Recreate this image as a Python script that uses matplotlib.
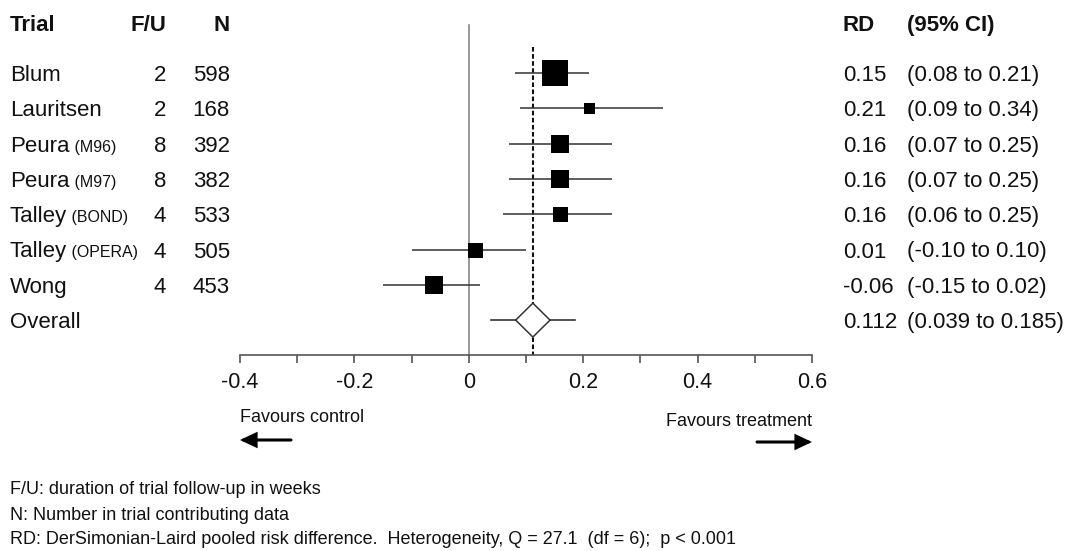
import matplotlib
matplotlib.use("Agg")
import matplotlib.pyplot as plt
from matplotlib.transforms import blended_transform_factory
from matplotlib.patches import Polygon, FancyArrowPatch

# ---------------- data ----------------
trials = ["Blum", "Lauritsen", "Peura", "Peura", "Talley", "Talley", "Wong"]
subtitles = ["", "", "(M96)", "(M97)", "(BOND)", "(OPERA)", ""]
fu = [2, 2, 8, 8, 4, 4, 4]
n_trial = [598, 168, 392, 382, 533, 505, 453]
rd = [0.15, 0.21, 0.16, 0.16, 0.16, 0.01, -0.06]
ci_lo = [0.08, 0.09, 0.07, 0.07, 0.06, -0.10, -0.15]
ci_hi = [0.21, 0.34, 0.25, 0.25, 0.25, 0.10, 0.02]
overall_rd = 0.112
overall_lo = 0.039
overall_hi = 0.185
x_ticks = [-0.4, -0.2, 0, 0.2, 0.4, 0.6]
x_tick_labels = ["-0.4", "-0.2", "0", "0.2", "0.4", "0.6"]
footnotes = [
    "F/U: duration of trial follow-up in weeks",
    "N: Number in trial contributing data",
    "RD: DerSimonian-Laird pooled risk difference.  Heterogeneity, Q = 27.1  (df = 6);  p < 0.001",
]

# ---------------- style ----------------
box_sizes_px = [27, 11, 18, 18, 15, 15, 18]
diamond_halfwidth = 0.03
W, H = 1070, 551
FONT = "Liberation Sans"
plt.rcParams["font.family"] = [FONT, "DejaVu Sans"]
TXT = "#111111"

fig = plt.figure(figsize=(W / 100, H / 100), dpi=100)

# axes: x from px 240 to 812, bottom at px 355, top at px 0
ax_left, ax_right, ax_bottom = 240, 812, 355
ax = fig.add_axes([ax_left / W, 1 - ax_bottom / H, (ax_right - ax_left) / W, ax_bottom / H])
ax.set_xlim(-0.4, 0.6)
row0_px, row_step = 73, 35.3
ax.set_ylim((ax_bottom - row0_px) / row_step, -row0_px / row_step)

for s in ["top", "right", "left"]:
    ax.spines[s].set_visible(False)
ax.spines["bottom"].set_color("#555555")
ax.spines["bottom"].set_linewidth(1.2)
ax.set_yticks([])
ax.set_xticks(x_ticks)
ax.set_xticklabels(x_tick_labels, fontsize=15.5, color=TXT)
ax.set_xticks([-0.3, -0.1, 0.1, 0.3, 0.5], minor=True)
ax.tick_params(axis="x", which="both", direction="out", length=6, width=1.2,
               color="#555555", pad=6)
ax.patch.set_alpha(0)

header_y = (23 - row0_px) / row_step
ylim_bottom = ax.get_ylim()[0]

# reference line at 0
ax.plot([0, 0], [(25 - row0_px) / row_step, ylim_bottom], color="#888888", lw=1.2,
        clip_on=False, zorder=1)
# pooled dashed line
ax.plot([overall_rd, overall_rd], [(47 - row0_px) / row_step, ylim_bottom], color="#111111",
        lw=1.5, ls=(0, (2.2, 1.2)), clip_on=False, zorder=2)

# trials
for i in range(len(trials)):
    ax.plot([ci_lo[i], ci_hi[i]], [i, i], color="#333333", lw=1.1, zorder=3,
            solid_capstyle="butt")
    ax.plot([rd[i]], [i], marker="s", color="black", markersize=box_sizes_px[i] * 0.72,
            markeredgewidth=0, zorder=4, linestyle="none")

# overall
io = len(trials)
ax.plot([overall_lo, overall_hi], [io, io], color="#222222", lw=1.1, zorder=3)
dia = Polygon([[overall_rd - diamond_halfwidth, io], [overall_rd, io - 0.48],
               [overall_rd + diamond_halfwidth, io], [overall_rd, io + 0.48]],
              closed=True, facecolor="white", edgecolor="#333333", lw=1.1, zorder=5)
ax.add_patch(dia)

# ---------------- text columns ----------------
tr = blended_transform_factory(fig.transFigure, ax.transData)
def fx(px):
    return px / W

FS = 16
kw = dict(transform=tr, va="center_baseline", color=TXT, fontsize=FS, clip_on=False)
ax.text(fx(10), header_y, "Trial", fontweight="bold", ha="left", **kw)
ax.text(fx(166), header_y, "F/U", fontweight="bold", ha="right", **kw)
ax.text(fx(230), header_y, "N", fontweight="bold", ha="right", **kw)
ax.text(fx(843), header_y, "RD", fontweight="bold", ha="left", **kw)
ax.text(fx(907), header_y, "(95% CI)", fontweight="bold", ha="left", **kw)

for i in range(len(trials)):
    t = ax.text(fx(10), i, trials[i], ha="left", **kw)
    if subtitles[i]:
        ax.annotate(" " + subtitles[i], xy=(1, 0), xycoords=t, ha="left", va="bottom",
                    fontsize=11.5, color=TXT, xytext=(0, 1.5), textcoords="offset points")
    ax.text(fx(166), i, str(fu[i]), ha="right", **kw)
    ax.text(fx(230), i, str(n_trial[i]), ha="right", **kw)
    ax.text(fx(843), i, f"{rd[i]:.2f}", ha="left", **kw)
    ax.text(fx(907), i, f"({ci_lo[i]:.2f} to {ci_hi[i]:.2f})", ha="left", **kw)

ax.text(fx(10), io, "Overall", ha="left", **kw)
ax.text(fx(843), io, f"{overall_rd:.3f}", ha="left", **kw)
ax.text(fx(907), io, f"({overall_lo:.3f} to {overall_hi:.3f})", ha="left", **kw)

# ---------------- favours labels & arrows ----------------
def fy(py):
    return 1 - py / H

fig.text(fx(240), fy(418), "Favours control", ha="left", va="center", fontsize=13, color=TXT)
fig.text(fx(812), fy(422), "Favours treatment", ha="right", va="center", fontsize=13, color=TXT)
arrow_kw = dict(arrowstyle="-|>,head_length=0.36,head_width=0.17", color="black", lw=2.2,
                shrinkA=0, shrinkB=0, mutation_scale=25, joinstyle="miter")
fig.add_artist(FancyArrowPatch((fx(291), fy(440)), (fx(240), fy(440)),
                               transform=fig.transFigure, **arrow_kw))
fig.add_artist(FancyArrowPatch((fx(757), fy(442)), (fx(812), fy(442)),
                               transform=fig.transFigure, **arrow_kw))

# ---------------- footnotes ----------------
for line, py in zip(footnotes, [490, 515, 539]):
    fig.text(fx(10), fy(py), line, ha="left", va="center", fontsize=13, color=TXT)

fig.savefig("out.png", dpi=100, facecolor="white")
